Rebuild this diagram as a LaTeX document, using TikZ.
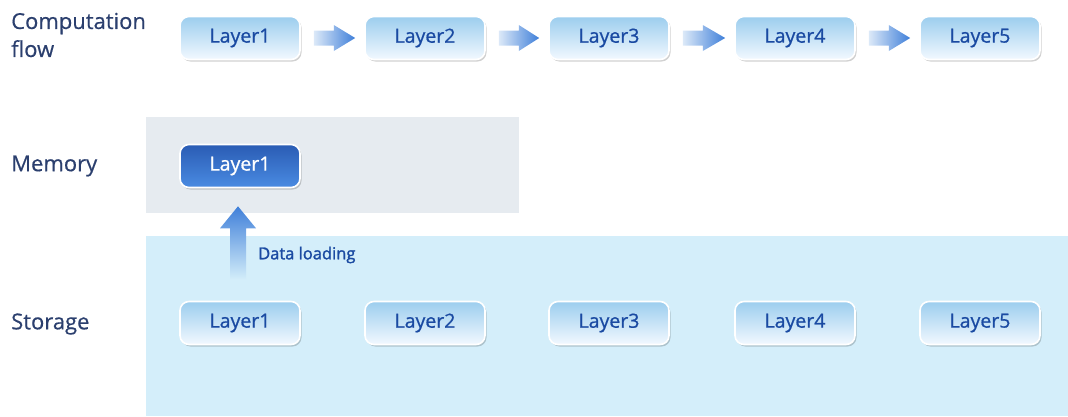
\documentclass[tikz,border=0pt]{standalone}
\usepackage{fontspec}
\setmainfont{Open Sans}
\newfontfamily\medfont[FakeBold=0.8]{Open Sans}
\newfontfamily\labfont[FakeBold=0.5]{Open Sans}
\newfontfamily\semifont[FakeBold=1.6]{Open Sans}
\usetikzlibrary{shadows,calc}
\definecolor{labelnavy}{HTML}{2B3F6E}
\definecolor{layertext}{HTML}{1A4AA2}
\definecolor{memgray}{HTML}{E6EBF0}
\definecolor{storeblue}{HTML}{D4EEFA}
\definecolor{boxtop}{HTML}{9CCDEE}
\definecolor{boxbot}{HTML}{F2F9FF}
\definecolor{darktop}{HTML}{2A5CB4}
\definecolor{darkbot}{HTML}{4A8BE2}
\definecolor{arrowblue}{HTML}{3F7FD9}
\definecolor{arrowpale}{HTML}{DCE9F8}
\tikzset{
  x=1pt, y=-1pt,
  rowlabel/.style={anchor=west, text=labelnavy, font=\labfont\fontsize{22}{28}\selectfont, align=left, inner sep=0pt},
  layerbox/.style={draw=white, line width=1.6pt, rounded corners=9pt,
    minimum width=120pt, minimum height=43pt, top color=boxtop, bottom color=boxbot,
    text=layertext, font=\medfont\fontsize{19.5}{22}\selectfont,
    drop shadow={shadow xshift=1.5pt, shadow yshift=-2pt, fill=black, opacity=0.18}},
  activebox/.style={layerbox, top color=darktop, bottom color=darkbot, text=white},
  flowarrow/.style={left color=arrowpale, right color=arrowblue},
  loadarrow/.style={bottom color=storeblue, top color=arrowblue},
}
\begin{document}
\begin{tikzpicture}
\useasboundingbox (0,0) rectangle (1068,416);
% background regions
\fill[memgray] (146,117) rectangle (519,213);
\fill[storeblue] (146,236) rectangle (1068,416);

% row labels
\node[rowlabel] (lblflow) at (11,35) {Computation\\flow};
\node[rowlabel] (lblmem) at (11,166) {Memory};
\node[rowlabel] (lblsto) at (11,324) {Storage};

% computation flow
\foreach \i/\x in {1/240,2/425,3/609,4/795,5/980}{
  \node[layerbox] (f\i) at (\x,38) {Layer\i};
}
\foreach \a/\b in {1/2,2/3,3/4,4/5}{
  \shade[flowarrow]
    ($(f\a.east)+(13,-7.5)$) -- ($(f\a.east)+(33,-7.5)$) -- ($(f\a.east)+(33,-13)$)
    -- ($(f\b.west)+(-9,0)$)
    -- ($(f\a.east)+(33,13)$) -- ($(f\a.east)+(33,7.5)$) -- ($(f\a.east)+(13,7.5)$) -- cycle;
}

% memory
\node[activebox] (m1) at (240,166) {Layer1};

% storage
\foreach \i/\x in {1/240,2/425,3/609,4/795,5/980}{
  \node[layerbox] (s\i) at (\x,323) {Layer\i};
}

% data loading arrow
\coordinate (loadbase) at ($(s1.north)+(-2,-21)$);
\shade[loadarrow]
  ($(loadbase)+(-8,0)$) -- ($(m1.south)+(-10,50)$) |- ($(m1.south)+(-20,40)$)
  -- ($(m1.south)+(-2,18)$)
  -- ($(m1.south)+(16,40)$) -| ($(m1.south)+(6,50)$) -- ($(loadbase)+(8,0)$) -- cycle;
\node[anchor=west, text=layertext, font=\semifont\fontsize{16.5}{19}\selectfont, inner sep=0pt] (load) at (258,255) {Data loading};
\end{tikzpicture}
\end{document}
